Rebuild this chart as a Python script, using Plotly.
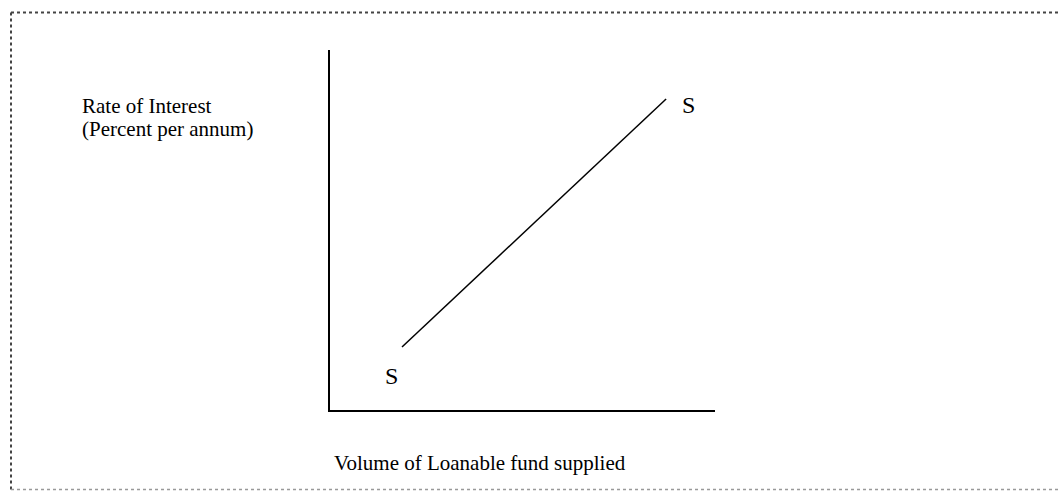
import plotly.graph_objects as go

# ---- data (schematic supply curve) ----
supply_quantity = [1.87, 8.73]   # volume of loanable funds (arbitrary units)
supply_rate = [1.75, 8.64]       # rate of interest (arbitrary units)
curve_labels = ["S", "S"]

y_title_lines = ["Rate of Interest", "(Percent per annum)"]
x_title = "Volume of Loanable fund supplied"

W, H = 1058, 492
L, R, T, B = 330, 343, 50, 82
PW, PH = W - L - R, H - T - B

def px(xp):
    return (xp - L) / PW

def py(yp):
    return (H - B - yp) / PH

FONT = dict(family="Liberation Serif, Times New Roman, serif", size=21, color="black")
SFONT = dict(family="Liberation Serif, Times New Roman, serif", size=24, color="black")

fig = go.Figure()
fig.add_trace(go.Scatter(
    x=supply_quantity, y=supply_rate, mode="lines",
    line=dict(color="black", width=1.5), hoverinfo="skip", showlegend=False,
))

annotations = [
    dict(x=supply_quantity[0], y=supply_rate[0], xref="x", yref="y", text=curve_labels[0],
         showarrow=False, xshift=-11, yshift=-29, font=SFONT),
    dict(x=supply_quantity[1], y=supply_rate[1], xref="x", yref="y", text=curve_labels[1],
         showarrow=False, xshift=22, yshift=-6, font=SFONT),
    dict(x=px(80), y=py(106), xref="paper", yref="paper", text=y_title_lines[0],
         showarrow=False, xanchor="left", yanchor="middle", font=FONT),
    dict(x=px(80), y=py(129), xref="paper", yref="paper", text=y_title_lines[1],
         showarrow=False, xanchor="left", yanchor="middle", font=FONT),
    dict(x=px(332), y=py(463), xref="paper", yref="paper", text=x_title,
         showarrow=False, xanchor="left", yanchor="middle", font=FONT),
]

shapes = [
    # dotted frame (top, left, bottom)
    dict(type="line", xref="paper", yref="paper", x0=px(11), x1=px(1060), y0=py(12.5), y1=py(12.5),
         line=dict(color="#444444", width=2, dash="dot")),
    dict(type="line", xref="paper", yref="paper", x0=px(11), x1=px(11), y0=py(12.5), y1=py(489.5),
         line=dict(color="#444444", width=2, dash="dot")),
    dict(type="line", xref="paper", yref="paper", x0=px(11), x1=px(1060), y0=py(489.5), y1=py(489.5),
         line=dict(color="#999999", width=1.5, dash="dot")),
]

fig.update_layout(
    width=W, height=H,
    margin=dict(l=L, r=R, t=T, b=B, pad=0),
    paper_bgcolor="white", plot_bgcolor="white",
    showlegend=False,
    annotations=annotations,
    shapes=shapes,
    xaxis=dict(range=[0, 10], showline=True, linecolor="black", linewidth=2,
               showgrid=False, zeroline=False, showticklabels=False, ticks="", fixedrange=True),
    yaxis=dict(range=[0, 10], showline=True, linecolor="black", linewidth=2,
               showgrid=False, zeroline=False, showticklabels=False, ticks="", fixedrange=True),
)

fig.write_html(
    "out.html",
    config={"displayModeBar": False},
    post_script="document.body.style.margin='0';document.body.style.overflow='hidden';",
)
